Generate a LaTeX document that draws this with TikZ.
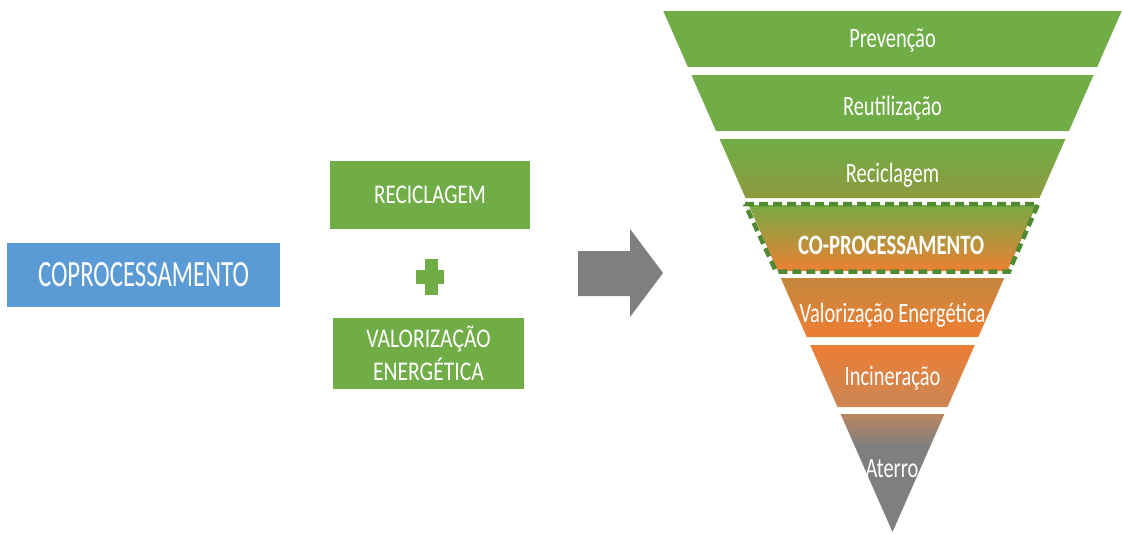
\documentclass[tikz,border=0pt]{standalone}
\usepackage{fontspec}
\setmainfont{Carlito}
\usepackage{graphicx}
\definecolor{bluebox}{HTML}{5B9BD5}
\definecolor{greenbox}{HTML}{70AD47}
\definecolor{olive3}{HTML}{8E9A3E}
\definecolor{green4}{HTML}{78A944}
\definecolor{orange4}{HTML}{EC8033}
\definecolor{brown5}{HTML}{C4873E}
\definecolor{orange5}{HTML}{EE7E33}
\definecolor{orange6}{HTML}{EC7E34}
\definecolor{brown6}{HTML}{CC8655}
\definecolor{brown7}{HTML}{BA8560}
\definecolor{gray7}{HTML}{7F7F7F}
\definecolor{arrowgray}{HTML}{7F7F7F}
\definecolor{dashgreen}{HTML}{4F8A33}
\pgfdeclareverticalshading{aterroshade}{100bp}{color(0bp)=(gray7); color(25bp)=(gray7); color(61bp)=(gray7); color(75bp)=(brown7); color(100bp)=(brown7)}
\newcommand{\hs}[2]{\scalebox{#1}[1]{#2}}
\newcommand{\band}[4]{%
  \shade[top color=#3, bottom color=#4]
    ({892.5-0.44*(532-#1)},#1) -- ({892.5+0.44*(532-#1)},#1) --
    ({892.5+0.44*(532-#2)},#2) -- ({892.5-0.44*(532-#2)},#2) -- cycle;}
\tikzset{
  flabel/.style={text=white, inner sep=0pt, anchor=base, font=\fontsize{28}{32}\selectfont},
  gbox/.style={fill=greenbox, text=white, inner sep=0pt, align=center, font=\fontsize{27}{32}\selectfont},
  bbox/.style={fill=bluebox, text=white, inner sep=0pt, font=\fontsize{37}{40}\selectfont},
}
\begin{document}
\begin{tikzpicture}[x=1pt,y=-1pt]
\useasboundingbox (0,0) rectangle (1122,533);
% left boxes
\node[bbox, minimum width=273pt, minimum height=64pt] (copro) at (143.5,275) {\hs{0.67}{COPROCESSAMENTO}};
\node[gbox, minimum width=200pt, minimum height=68pt] (recic) at (430,195) {\hs{0.78}{RECICLAGEM}};
\node[gbox, minimum width=191pt, minimum height=71pt] (valor) at (428.5,353) {\hs{0.8}{VALORIZAÇÃO}\\[1pt]\hs{0.8}{ENERGÉTICA}};
% plus sign
\fill[greenbox] (424.5,259) rectangle (437.5,295);
\fill[greenbox] (416,270) rectangle (444,283.5);
% block arrow
\fill[arrowgray] (578,251) -- (630,251) -- (630,229) -- (663,273) -- (630,317) -- (630,296) -- (578,296) -- cycle;
% funnel
\band{11}{67}{greenbox}{greenbox}
\band{75}{131}{greenbox}{greenbox}
\band{139}{198}{greenbox}{olive3}
\band{205}{271}{green4}{orange4}
\band{278}{337}{brown5}{orange5}
\band{345}{407}{orange6}{brown6}
\shade[shading=aterroshade] ({892.5-0.44*(532-414)},414) -- ({892.5+0.44*(532-414)},414) -- (892.5,532) -- cycle;
\draw[dashgreen, line width=4.5pt, dash pattern=on 9pt off 5pt] (745,204) -- (1038,204) -- (1009,271.5) -- (776,271.5) -- cycle;
% funnel labels
\node[flabel] (l1) at (892.5,47) {\hs{0.73}{Prevenção}};
\node[flabel] (l2) at (892.5,115) {\hs{0.73}{Reutilização}};
\node[flabel] (l3) at (892.5,182) {\hs{0.73}{Reciclagem}};
\node[flabel, font=\fontsize{28}{32}\selectfont\bfseries] (l4) at (891,254) {\hs{0.74}{CO-PROCESSAMENTO}};
\node[flabel] (l5) at (892.5,322) {\hs{0.73}{Valorização Energética}};
\node[flabel] (l6) at (892.5,385) {\hs{0.73}{Incineração}};
\node[flabel] (l7) at (892,477) {\hs{0.73}{Aterro}};
\end{tikzpicture}
\end{document}
